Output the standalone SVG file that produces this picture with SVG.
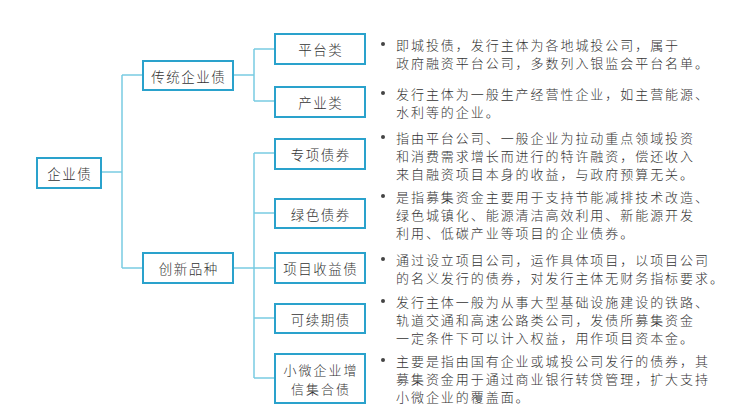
<svg xmlns="http://www.w3.org/2000/svg" width="747" height="411" viewBox="0 0 747 411">
<style>
.box{fill:#fff;stroke:#2aa2cc;stroke-width:2}
.lbl{font-family:"Noto Sans CJK SC","Noto Sans",sans-serif;font-size:13.5px;font-weight:300;letter-spacing:1.5px;fill:#333;text-anchor:middle;dominant-baseline:central}
.sm{font-size:13px;letter-spacing:2px}
.desc{font-family:"Noto Sans CJK SC","Noto Sans",sans-serif;font-size:13px;font-weight:300;letter-spacing:1.95px;fill:#333;dominant-baseline:central}
.dot{fill:#444}
.conn{fill:none;stroke:#79cbe2;stroke-width:1.5}
</style>
<rect width="747" height="411" fill="#fff"/>
<g id="connectors">
<path class="conn" d="M101,172H122M122,75V268M122,75H143M122,268H143"/>
<path class="conn" d="M233,75H254M254,49V101M254,49H275M254,101H275"/>
<path class="conn" d="M233,268H254M254,153V378M254,153H275M254,213H275M254,268H275M254,318H275M254,378H275"/>
</g>
<g id="n-root"><rect class="box" x="37" y="158" width="64" height="30"/><text class="lbl" x="69.7" y="173">企业债</text></g>
<g id="n-traditional"><rect class="box" x="143" y="61" width="90" height="29"/><text class="lbl" x="188.7" y="75.5">传统企业债</text></g>
<g id="n-innovative"><rect class="box" x="143" y="253" width="90" height="30"/><text class="lbl" x="188.7" y="268">创新品种</text></g>
<g id="n-platform"><rect class="box" x="275" y="34" width="90" height="30"/><text class="lbl" x="320.7" y="49">平台类</text></g>
<g id="n-industry"><rect class="box" x="275" y="87" width="90" height="30"/><text class="lbl" x="320.7" y="102">产业类</text></g>
<g id="n-special"><rect class="box" x="275" y="139" width="90" height="30"/><text class="lbl" x="320.7" y="154">专项债券</text></g>
<g id="n-green"><rect class="box" x="275" y="199" width="90" height="29"/><text class="lbl" x="320.7" y="213.5">绿色债券</text></g>
<g id="n-project"><rect class="box" x="275" y="253" width="90" height="30"/><text class="lbl" x="320.7" y="268">项目收益债</text></g>
<g id="n-perpetual"><rect class="box" x="275" y="304" width="90" height="29"/><text class="lbl" x="320.7" y="318.5">可续期债</text></g>
<g id="n-sme"><rect class="box" x="275" y="354" width="90" height="49"/><text class="lbl sm" x="321" y="369.5">小微企业增</text><text class="lbl sm" x="321" y="388.5">信集合债</text></g>
<g id="d-platform"><circle class="dot" cx="383" cy="44" r="2"/><text class="desc" x="396" y="44">即城投债，发行主体为各地城投公司，属于</text><text class="desc" x="396" y="62">政府融资平台公司，多数列入银监会平台名单。</text></g>
<g id="d-industry"><circle class="dot" cx="383" cy="93" r="2"/><text class="desc" x="396" y="93">发行主体为一般生产经营性企业，如主营能源、</text><text class="desc" x="396" y="111">水利等的企业。</text></g>
<g id="d-special"><circle class="dot" cx="383" cy="137" r="2"/><text class="desc" x="396" y="137">指由平台公司、一般企业为拉动重点领域投资</text><text class="desc" x="396" y="155">和消费需求增长而进行的特许融资，偿还收入</text><text class="desc" x="396" y="173">来自融资项目本身的收益，与政府预算无关。</text></g>
<g id="d-green"><circle class="dot" cx="383" cy="196" r="2"/><text class="desc" x="396" y="196">是指募集资金主要用于支持节能减排技术改造、</text><text class="desc" x="396" y="214">绿色城镇化、能源清洁高效利用、新能源开发</text><text class="desc" x="396" y="232">利用、低碳产业等项目的企业债券。</text></g>
<g id="d-project"><circle class="dot" cx="383" cy="259" r="2"/><text class="desc" x="396" y="259">通过设立项目公司，运作具体项目，以项目公司</text><text class="desc" x="396" y="277">的名义发行的债券，对发行主体无财务指标要求。</text></g>
<g id="d-perpetual"><circle class="dot" cx="383" cy="301" r="2"/><text class="desc" x="396" y="301">发行主体一般为从事大型基础设施建设的铁路、</text><text class="desc" x="396" y="319">轨道交通和高速公路类公司，发债所募集资金</text><text class="desc" x="396" y="337">一定条件下可以计入权益，用作项目资本金。</text></g>
<g id="d-sme"><circle class="dot" cx="383" cy="360" r="2"/><text class="desc" x="396" y="360">主要是指由国有企业或城投公司发行的债券，其</text><text class="desc" x="396" y="378">募集资金用于通过商业银行转贷管理，扩大支持</text><text class="desc" x="396" y="396">小微企业的覆盖面。</text></g>
</svg>
